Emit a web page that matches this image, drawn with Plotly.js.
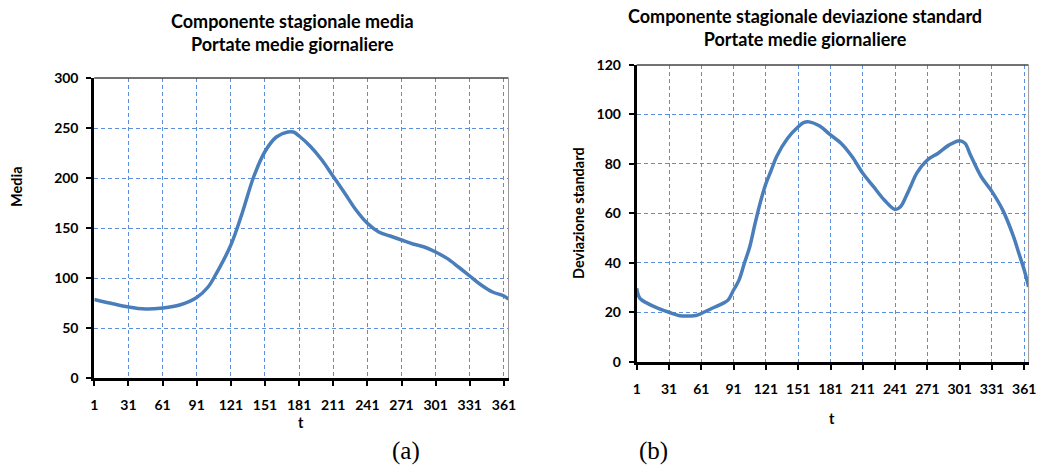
<!DOCTYPE html>
<html><head><meta charset="utf-8">
<script src="https://cdn.plot.ly/plotly-3.0.1.min.js"></script>
<style>html,body{margin:0;padding:0;background:#fff}#chart{width:1038px;height:465px}</style>
</head><body><div id="chart"></div>
<script>
// Componente stagionale media
const tMedia = [1,31,46,61,76,91,101,106,121,131,141,151,161,171,176,181,191,201,211,221,231,241,251,261,271,281,291,301,311,321,331,341,351,361,365];
const media  = [78.5,71,69,70,73,80.5,91,100,133,165,201,226.5,241,246,246,242,231.5,218,201.5,185,168,154.7,146,142,138,134,131,126,119.6,111,102,93,86,82,79];
// Componente stagionale deviazione standard
const tDev = [1,4,11,21,31,41,51,56,61,71,81,86,91,96,101,106,111,116,121,126,131,141,151,156,161,171,181,191,201,211,221,231,241,246,251,256,261,271,281,291,301,306,311,321,331,341,351,356,361,365];
const devStd = [29.7,25.6,23.6,21.6,20,18.6,18.5,18.7,19.5,21.6,23.6,25,29,33,39.8,46.5,56,64.7,72,77.5,83,90.3,95,96.7,97,95.3,91.7,88.3,83,76.2,70.8,65.4,61.6,62.7,66.7,71.5,76.2,81.6,84.3,87.6,89.4,88.3,83.6,74.8,68.8,61.3,50.6,43.8,37,30.3];
const xTicks = [1,31,61,91,121,151,181,211,241,271,301,331,361];
const yTicksA = [0,50,100,150,200,250,300];
const yTicksB = [0,20,40,60,80,100,120];

const W = 1038, H = 465;
const px = v => v / W, py = v => 1 - v / H;
const lineColor = '#4a7ebb';
const gridColor = '#5b8fdc';
const tickFont = {family: 'Lato', size: 14, color: '#000', weight: 'bold'};

function xaxis(domain, anchor) {
  return {domain: domain, anchor: anchor, range: [1, 365], tickvals: xTicks, ticktext: xTicks.map(String),
    showline: true, linecolor: '#000', linewidth: 3, ticks: 'outside', ticklen: 5, tickwidth: 2, tickcolor: '#000',
    showgrid: true, gridcolor: gridColor, griddash: '4px,3px', gridwidth: 1, zeroline: false,
    tickfont: tickFont, ticklabelstandoff: 7, fixedrange: true};
}
function yaxis(domain, anchor, range, vals) {
  return {domain: domain, anchor: anchor, range: range, tickvals: vals, ticktext: vals.map(String),
    showline: true, linecolor: '#000', linewidth: 3, ticks: 'outside', ticklen: 5, tickwidth: 2, tickcolor: '#000',
    showgrid: true, gridcolor: gridColor, griddash: '4px,3px', gridwidth: 1, zeroline: false,
    tickfont: tickFont, ticklabelstandoff: 5, fixedrange: true};
}

const data = [
  {x: tMedia, y: media, type: 'scatter', mode: 'lines', line: {color: lineColor, width: 3.5, shape: 'spline', smoothing: 1}, xaxis: 'x', yaxis: 'y', hoverinfo: 'skip'},
  {x: tDev, y: devStd, type: 'scatter', mode: 'lines', line: {color: lineColor, width: 3.5, shape: 'spline', smoothing: 1}, xaxis: 'x2', yaxis: 'y2', hoverinfo: 'skip'}
];

const titleFont = {family: 'Lato', size: 18, color: '#000', weight: 'bold'};
const axTitleFont = {family: 'Lato', size: 14.5, color: '#000', weight: 'bold'};
const ann = (text, x, y, font, extra) => Object.assign({text: text, x: px(x), y: py(y), xref: 'paper', yref: 'paper', showarrow: false, font: font, xanchor: 'center', yanchor: 'middle'}, extra || {});

const layout = {
  width: W, height: H, margin: {l: 0, r: 0, t: 0, b: 0}, showlegend: false,
  paper_bgcolor: '#fff', plot_bgcolor: '#fff',
  xaxis: xaxis([px(94.3), px(508.5)], 'y'),
  yaxis: yaxis([1 - 378 / H, 1 - 78 / H], 'x', [0, 300], yTicksA),
  xaxis2: xaxis([px(636.7), px(1028.6)], 'y2'),
  yaxis2: yaxis([1 - 361.7 / H, 1 - 65 / H], 'x2', [0, 120], yTicksB),
  shapes: [
    {type: 'line', xref: 'x domain', yref: 'y domain', x0: 0, x1: 1, y0: 1, y1: 1, line: {color: '#444', width: 1.5}},
    {type: 'line', xref: 'x domain', yref: 'y domain', x0: 1, x1: 1, y0: 0, y1: 1, line: {color: '#999', width: 1}},
    {type: 'line', xref: 'x2 domain', yref: 'y2 domain', x0: 0, x1: 1, y0: 1, y1: 1, line: {color: '#444', width: 1.5}},
    {type: 'line', xref: 'x2 domain', yref: 'y2 domain', x0: 1, x1: 1, y0: 0, y1: 1, line: {color: '#999', width: 1}}
  ],
  annotations: [
    ann('Componente stagionale media<br>Portate medie giornaliere', 292, 33, titleFont),
    ann('Componente stagionale deviazione standard<br>Portate medie giornaliere', 805, 27, titleFont),
    ann('t', 301, 422, axTitleFont),
    ann('t', 832, 418, axTitleFont),
    ann('Media', 17, 187, axTitleFont, {textangle: -90}),
    ann('Deviazione standard', 579, 213, axTitleFont, {textangle: -90}),
    ann('(a)', 406, 451, {family: 'Liberation Serif', size: 25, color: '#000'}),
    ann('(b)', 653, 451, {family: 'Liberation Serif', size: 25, color: '#000'})
  ]
};

Plotly.newPlot('chart', data, layout, {staticPlot: true, displayModeBar: false});
</script></body></html>
